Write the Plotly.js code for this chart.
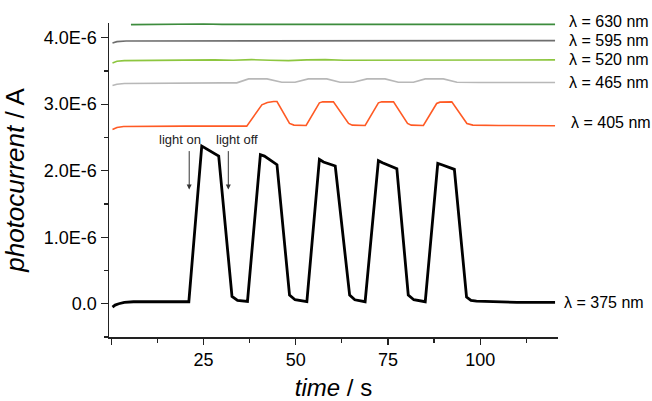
<!DOCTYPE html>
<html>
<head>
<meta charset="utf-8">
<script src="https://cdn.plot.ly/plotly-3.0.1.min.js"></script>
<style>html,body{margin:0;padding:0;background:#fff;}#chart{width:652px;height:401px;}</style>
</head>
<body>
<div id="chart"></div>
<script>
// ---- data (time in s, photocurrent in 1e-6 A) ----
const t375 = [0.3, 1, 2, 3.5, 6, 10, 15, 21.0, 24.5, 29.1, 32.7, 34.2, 36.9, 40.4, 41.5, 44.9, 48.3, 49.8, 53.0, 56.4, 57.5, 60.7, 64.6, 66, 68.8, 72.4, 73.5, 77.4, 80.5, 82, 85.1, 88.5, 89.6, 93.0, 96.3, 97.5, 99, 103, 110, 120.3];
const v375 = [-0.05, -0.02, 0.0, 0.02, 0.03, 0.03, 0.03, 0.03, 2.37, 2.22, 0.11, 0.05, 0.035, 2.24, 2.22, 2.09, 0.13, 0.06, 0.03, 2.17, 2.13, 2.07, 0.13, 0.06, 0.03, 2.15, 2.12, 2.03, 0.13, 0.06, 0.03, 2.11, 2.09, 2.02, 0.1, 0.05, 0.04, 0.03, 0.02, 0.02];

const t405 = [0.3, 1.5, 3.3, 10, 20, 30, 36.7, 40.8, 42.3, 44.0, 44.9, 48.3, 49.5, 52.8, 56.4, 57.3, 60.2, 64.3, 65.3, 68.8, 72.4, 73.3, 76.5, 80.3, 81.3, 84.6, 88.2, 89.1, 92.3, 96.4, 98, 105, 120.3];
const v405 = [2.62, 2.65, 2.665, 2.67, 2.67, 2.67, 2.67, 2.99, 3.025, 3.04, 3.04, 2.71, 2.685, 2.68, 3.02, 3.035, 3.035, 2.71, 2.685, 2.68, 3.02, 3.035, 3.035, 2.71, 2.685, 2.68, 3.01, 3.03, 3.035, 2.71, 2.685, 2.68, 2.675];

const t465 = [0.3, 1.5, 3.5, 10, 20, 30, 34, 37.2, 42.2, 46.2, 49.8, 53.4, 58.4, 62, 65.6, 69.3, 74.2, 77.8, 81.9, 85.1, 90, 93.7, 100, 110, 120.3];
const v465 = [3.28, 3.30, 3.31, 3.315, 3.32, 3.32, 3.32, 3.38, 3.38, 3.33, 3.33, 3.38, 3.38, 3.33, 3.33, 3.38, 3.38, 3.33, 3.33, 3.38, 3.38, 3.33, 3.325, 3.325, 3.325];

const t520 = [0.3, 1.5, 3.5, 10, 18, 23, 28, 33, 38, 43, 48, 53, 58, 63, 68, 73, 78, 83, 88, 93, 98, 105, 112, 120.3];
const v520 = [3.62, 3.645, 3.655, 3.66, 3.66, 3.67, 3.665, 3.66, 3.67, 3.66, 3.655, 3.665, 3.67, 3.66, 3.66, 3.67, 3.665, 3.66, 3.66, 3.665, 3.66, 3.66, 3.665, 3.665];

const t595 = [0.3, 1.5, 4, 10, 20, 30, 40, 50, 60, 70, 80, 90, 100, 110, 120.3];
const v595 = [3.92, 3.94, 3.95, 3.95, 3.955, 3.955, 3.96, 3.955, 3.955, 3.955, 3.955, 3.955, 3.95, 3.955, 3.955];

const t630 = [5.3, 10, 15, 20, 25, 30, 40, 50, 60, 70, 80, 90, 100, 110, 120.3];
const v630 = [4.195, 4.2, 4.2, 4.21, 4.205, 4.2, 4.205, 4.2, 4.2, 4.2, 4.2, 4.2, 4.2, 4.2, 4.2];

const seriesNames = ['λ = 375 nm', 'λ = 405 nm', 'λ = 465 nm', 'λ = 520 nm', 'λ = 595 nm', 'λ = 630 nm'];
const xTickVals = [0, 25, 50, 75, 100];
const xTickText = ['', '25', '50', '75', '100'];
const yTickVals = [0, 1, 2, 3, 4];
const yTickText = ['0.0', '1.0E-6', '2.0E-6', '3.0E-6', '4.0E-6'];
const eventLabels = ['light on', 'light off'];
const eventTimes = [21.1, 31.7];

const SCALE = 1e-6;
const sc = a => a.map(v => v * SCALE);

const series = [
  {t: t375, v: v375, color: '#000000', width: 2.8, shiftX: 3.7, shiftY: 0},
  {t: t405, v: v405, color: '#ff5a24', width: 1.6, shiftX: 11.3, shiftY: 3.4},
  {t: t465, v: v465, color: '#b8b8b8', width: 1.6, shiftX: 8.7, shiftY: 0},
  {t: t520, v: v520, color: '#8dc63f', width: 1.6, shiftX: 8.7, shiftY: 0},
  {t: t595, v: v595, color: '#6e6e6e', width: 1.6, shiftX: 8.7, shiftY: 0},
  {t: t630, v: v630, color: '#3d8c3d', width: 1.6, shiftX: 8.7, shiftY: 3}
];

const FONT = 'Arial, "Liberation Sans", sans-serif';

const traces = series.map((s, i) => ({
  x: s.t, y: sc(s.v), type: 'scatter', mode: 'lines', name: seriesNames[i],
  line: {color: s.color, width: s.width}, hoverinfo: 'skip'
}));

const annotations = [];
series.forEach((s, i) => {
  annotations.push({
    xref: 'paper', yref: 'y', x: 1, y: s.v[s.v.length - 1] * SCALE,
    xanchor: 'left', yanchor: 'middle', xshift: s.shiftX, yshift: s.shiftY,
    text: seriesNames[i], showarrow: false, font: {family: FONT, size: 16, color: '#000'}
  });
});
// light on / off arrows and labels
const labelX = [18.5, 34.0];
eventTimes.forEach((tt, i) => {
  annotations.push({
    xref: 'x', yref: 'y', x: tt, y: 1.716 * SCALE, axref: 'x', ayref: 'y', ax: tt, ay: 2.317 * SCALE,
    text: '', showarrow: true, arrowhead: 2, arrowsize: 1, arrowwidth: 1, arrowcolor: '#333'
  });
  annotations.push({
    xref: 'x', yref: 'y', x: labelX[i], y: 2.47 * SCALE, text: eventLabels[i], showarrow: false,
    xanchor: 'center', yanchor: 'middle', font: {family: FONT, size: 13, color: '#222'}
  });
});

const layout = {
  width: 652, height: 401,
  margin: {l: 109, r: 94, t: 23, b: 64},
  paper_bgcolor: '#fff', plot_bgcolor: '#fff',
  showlegend: false,
  font: {family: FONT, color: '#000'},
  xaxis: {
    range: [-0.65, 121.1], showgrid: false, zeroline: false,
    showline: true, linecolor: '#222', linewidth: 1.5,
    ticks: 'outside', ticklen: 6, tickwidth: 1.3, tickcolor: '#222',
    tickmode: 'array', tickvals: xTickVals, ticktext: xTickText,
    tickfont: {family: FONT, size: 18, color: '#000'},
    minor: {tickmode: 'linear', tick0: 0, dtick: 12.5, ticklen: 4, tickwidth: 1.2, tickcolor: '#222', ticks: 'outside'},
    title: {text: '<i>time</i> / s', font: {family: FONT, size: 24, color: '#000'}, standoff: 10}
  },
  yaxis: {
    range: [-0.5e-6, 4.22e-6], showgrid: false, zeroline: false,
    showline: true, linecolor: '#222', linewidth: 1.5,
    ticks: 'outside', ticklen: 7, tickwidth: 1.3, tickcolor: '#222',
    tickmode: 'array', tickvals: sc(yTickVals), ticktext: yTickText,
    tickfont: {family: FONT, size: 18, color: '#000'},
    minor: {tickmode: 'linear', tick0: -0.5e-6, dtick: 0.5e-6, ticklen: 4, tickwidth: 1.2, tickcolor: '#222', ticks: 'outside'},
    title: {text: '<i>photocurrent</i> / A', font: {family: FONT, size: 26, color: '#000'}, standoff: 12}
  },
  annotations: annotations
};

Plotly.newPlot('chart', traces, layout, {staticPlot: true, displayModeBar: false});
</script>
</body>
</html>
